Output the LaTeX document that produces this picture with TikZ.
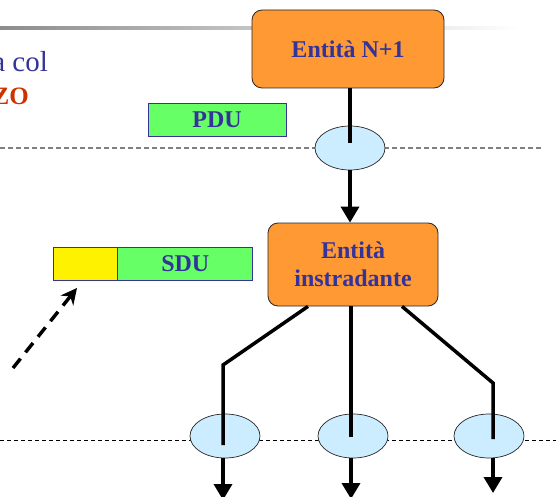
\documentclass[tikz,border=0pt]{standalone}
\usepackage{fontspec}
\setmainfont{Liberation Serif}
\usetikzlibrary{arrows.meta,shapes.geometric}
\definecolor{entorange}{HTML}{FF9933}
\definecolor{txtblue}{HTML}{333399}
\definecolor{pdugreen}{HTML}{66FF66}
\definecolor{sapblue}{HTML}{CCECFF}
\definecolor{titlered}{HTML}{CC3300}
\begin{document}
\begin{tikzpicture}[x=1pt,y=1pt,
  lab/.style={font=\fontsize{24}{28.5}\selectfont\bfseries, text=txtblue},
  entity/.style={lab, draw=black!85, line width=0.8pt, fill=entorange, rounded corners=10pt, align=center, inner sep=0pt},
  sap/.style={ellipse, draw=black!85, line width=0.7pt, fill=sapblue, minimum width=70pt, minimum height=44pt, inner sep=0pt},
  unit/.style={lab, draw=txtblue, line width=0.8pt, fill=pdugreen, minimum height=33pt, inner sep=0pt},
  flow/.style={line width=3.5pt},
  flowarrow/.style={flow, -{Triangle[width=18pt,length=16pt]}},
  layerline/.style={draw=gray, line width=1.1pt, dash pattern=on 5pt off 3pt},
  layerline2/.style={draw=black, line width=0.8pt, dash pattern=on 4pt off 3pt}
]
\useasboundingbox (0,0) rectangle (556,-497);

% header line
\shade[left color=black!45, right color=white] (0,-26.5) rectangle (520,-30);

% title fragments
\node[anchor=base east, inner sep=0pt, text=txtblue, font=\fontsize{29}{34}\selectfont] (t1) at (48,-72) {a col};
\node[anchor=base east, inner sep=0pt, text=titlered, font=\fontsize{25}{30}\selectfont\bfseries] (t2) at (29,-105) {ZO};

% layer boundaries
\coordinate (l1a) at (0,-148); \coordinate (l1b) at (542,-148);
\coordinate (l2a) at (0,-440); \coordinate (l2b) at (556,-440);
\draw[layerline] (l1a) -- (l1b);
\draw[layerline2] (l2a) -- (l2b);

% nodes
\node[entity, minimum width=192pt, minimum height=78pt] (top) at (348,-49) {Entità N+1};
\node[sap] (s1) at (350,-148) {};
\node[entity, minimum width=170pt, minimum height=83pt] (rout) at (353,-264.5) {Entità\\instradante};
\node[unit, minimum width=138pt] (pdu) at (217,-119.5) {PDU};
\node[unit, fill=yellow, minimum width=64pt] (hdr) at (85,-263.5) {};
\node[unit, minimum width=135pt, anchor=west] (sdu) at (hdr.east) {SDU};
\node[sap] (b1) at (225,-436) {};
\node[sap] (b2) at (353,-436) {};
\node[sap] (b3) at (489,-436) {};

% upper flow
\draw[flow] (s1 |- top.south) -- ([yshift=5pt]s1.center);
\draw[flowarrow] (s1.south) -- (s1 |- rout.north);

% routing
\coordinate (c1) at (223,-365);
\coordinate (c3) at (493,-383);
\coordinate (e1) at (223,-445);
\coordinate (e2) at (351,-437);
\coordinate (e3) at (493,-439);
\draw[flow] ([xshift=-45pt]rout.south) -- (c1) -- (e1);
\draw[flow] (e2 |- rout.south) -- (e2);
\draw[flow] ([xshift=49pt]rout.south) -- (c3) -- (e3);

% lower flows
\coordinate (d1) at (223,-500);
\coordinate (d2) at (351,-499);
\coordinate (d3) at (493,-493);
\draw[flowarrow] (e1 |- b1.south) -- (d1);
\draw[flowarrow] (e2 |- b2.south) -- (d2);
\draw[flowarrow] (e3 |- b3.south) -- (d3);

% dashed pointer
\coordinate (p0) at (13,-368);
\coordinate (p1) at (77,-288);
\draw[line width=3.5pt, dash pattern=on 12pt off 8pt, -{Stealth[width=16pt,length=16pt]}] (p0) -- (p1);
\end{tikzpicture}
\end{document}
